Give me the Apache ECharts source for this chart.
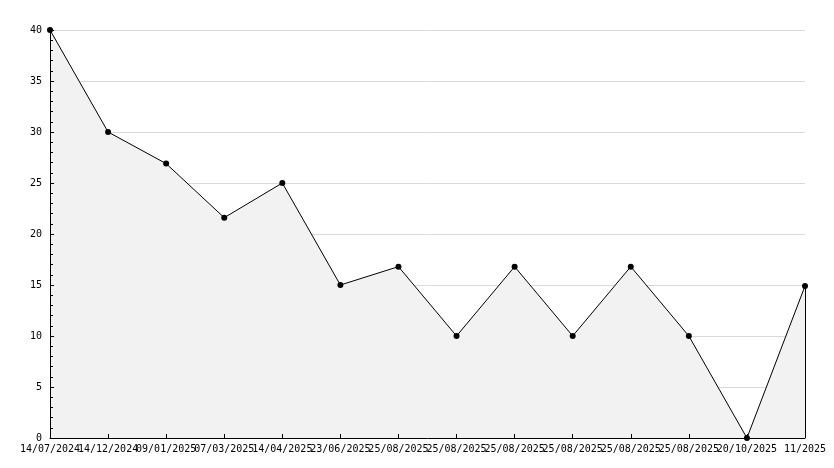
<!DOCTYPE html>
<html>
<head>
<meta charset="utf-8">
<script src="https://cdn.jsdelivr.net/npm/echarts@6/dist/echarts.min.js"></script>
<style>html,body{margin:0;padding:0;background:#fff}#c{width:834px;height:468px}</style>
</head>
<body>
<div id="c"></div>
<script>
const categories = ['14/07/2024','14/12/2024','09/01/2025','07/03/2025','14/04/2025','23/06/2025','25/08/2025','25/08/2025','25/08/2025','25/08/2025','25/08/2025','25/08/2025','20/10/2025','11/2025'];
const values = [40, 30, 26.9, 21.6, 25, 15, 16.8, 10, 16.8, 10, 16.8, 10, 0, 14.9];
const yTicks = {min: 0, max: 40, interval: 5};

const font = 'DejaVu Sans Mono';
const lastIdx = categories.length - 1;
const idx = categories.map((c, i) => String(i));

function xAx(front) {
  return {
    type: 'category',
    position: 'bottom',
    offset: 0,
    data: idx,
    boundaryGap: false,
    z: front ? 10 : 0,
    axisLine: {show: front, onZero: false, lineStyle: {color: '#000', width: 1}},
    axisTick: {show: front, inside: true, length: 4, alignWithLabel: true, interval: 0, lineStyle: {color: '#000'}},
    axisLabel: {show: !front, interval: 0, color: '#000', fontFamily: font, fontSize: 10, margin: 6,
      formatter: (v) => categories[+v]},
    splitLine: {show: false}
  };
}
function yAx(front) {
  return {
    type: 'value',
    position: 'left',
    offset: 0,
    min: yTicks.min, max: yTicks.max, interval: yTicks.interval,
    z: front ? 10 : 0,
    axisLine: {show: front, onZero: false, lineStyle: {color: '#000', width: 1}},
    axisTick: {show: front, inside: true, length: 4, lineStyle: {color: '#000'}},
    minorTick: {show: front, splitNumber: 5, length: 3, lineStyle: {color: '#000'}},
    axisLabel: {show: !front, color: '#000', fontFamily: font, fontSize: 10, margin: 8},
    splitLine: {show: !front, lineStyle: {color: '#dadada', width: 1}}
  };
}

const chart = echarts.init(document.getElementById('c'));
chart.setOption({
  animation: false,
  backgroundColor: '#ffffff',
  grid: {left: 50, right: 29, top: 30, bottom: 30, containLabel: false},
  xAxis: [xAx(false), xAx(true)],
  yAxis: [yAx(false), yAx(true)],
  series: [{
    type: 'line',
    xAxisIndex: 0, yAxisIndex: 0,
    data: values,
    symbol: 'circle',
    symbolSize: 6,
    z: 5,
    itemStyle: {color: '#000'},
    lineStyle: {color: '#000', width: 1},
    areaStyle: {color: '#f2f2f2', opacity: 1},
    markLine: {
      silent: true,
      symbol: ['none', 'none'],
      label: {show: false},
      lineStyle: {color: '#000', width: 1, type: 'solid'},
      data: [[{coord: [String(lastIdx), 0]}, {coord: [String(lastIdx), values[lastIdx]]}]]
    }
  }]
});
</script>
</body>
</html>
